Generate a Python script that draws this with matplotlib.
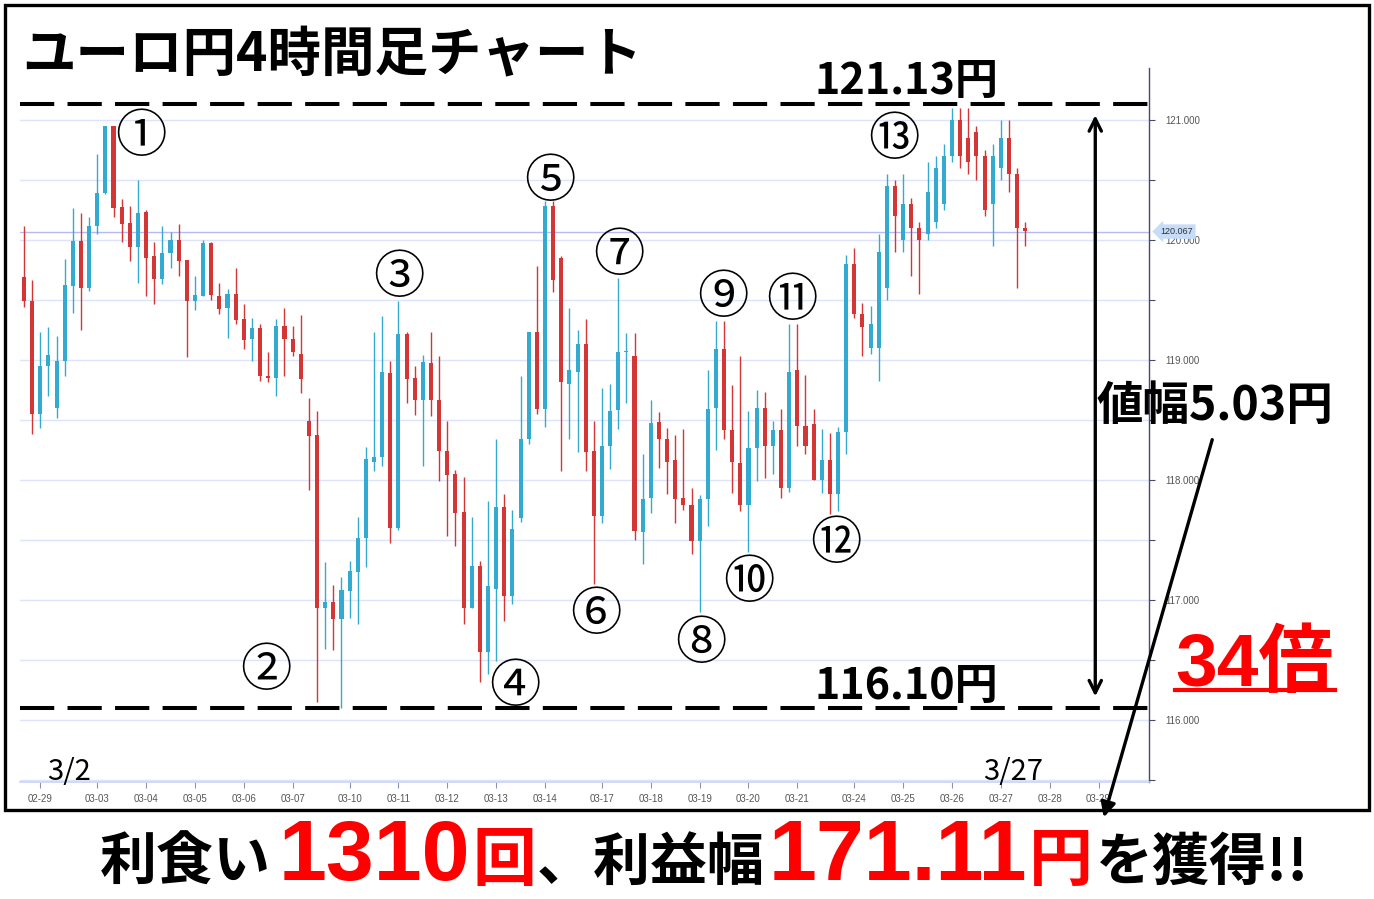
import matplotlib
matplotlib.use("Agg")
import matplotlib.pyplot as plt
import matplotlib.transforms as mtransforms
from matplotlib.patches import Rectangle
import numpy as np

plt.rcParams['font.family'] = ['Noto Sans CJK JP', 'DejaVu Sans']

W, H = 1374, 899
BLUE = '#33abd1'
RED = '#d43535'

# 4h candles (EUR/JPY)
opens = [119.69, 119.49, 118.55, 118.95, 118.60, 118.99, 119.61, 119.99, 119.60, 120.11,
         120.39, 120.95, 120.27, 120.14, 119.94, 120.23, 119.86, 119.67, 119.89, 120.00,
         119.83, 119.49, 119.53, 119.97, 119.53, 119.43, 119.55, 119.34, 119.17, 119.26,
         118.86, 118.85, 119.28, 119.17, 119.05, 118.49, 118.37, 116.93, 116.98, 116.84,
         117.07, 117.23, 117.51, 118.15, 118.19, 118.89, 117.60, 119.21, 118.85, 118.66,
         118.97, 118.66, 118.24, 118.05, 117.73, 116.93, 117.28, 116.56, 117.09, 117.77,
         117.03, 117.68, 118.34, 119.23, 118.59, 120.28, 119.85, 118.80, 118.90, 119.13,
         118.24, 117.70, 118.28, 118.58, 119.06, 119.03, 117.56, 117.85, 118.48, 118.34,
         118.16, 117.85, 117.79, 117.49, 117.84, 118.60, 119.09, 118.41, 118.14, 117.79,
         118.26, 118.60, 118.28, 118.41, 117.93, 118.91, 118.45, 118.46, 118.00, 118.16,
         117.88, 118.40, 119.80, 119.38, 119.10, 119.10, 119.60, 120.45, 120.00, 120.30,
         120.10, 120.05, 120.15, 120.30, 120.70, 121.00, 120.85, 120.90, 120.70, 120.30,
         120.60, 120.85, 120.55, 120.10]
highs = [120.11, 119.66, 119.23, 119.27, 119.20, 119.84, 120.26, 120.22, 120.19, 120.71,
         120.95, 120.95, 120.34, 120.28, 120.50, 120.25, 119.98, 120.11, 120.06, 120.13,
         119.83, 119.70, 120.00, 119.98, 119.64, 119.59, 119.76, 119.46, 119.35, 119.30,
         119.06, 119.34, 119.43, 119.28, 119.37, 118.68, 118.57, 117.31, 117.12, 117.19,
         117.32, 117.69, 118.27, 119.23, 119.36, 118.99, 119.49, 119.23, 118.95, 119.04,
         119.23, 119.03, 118.49, 118.08, 118.02, 117.69, 117.32, 117.82, 118.34, 117.88,
         117.75, 118.86, 119.23, 119.78, 120.32, 120.32, 119.86, 119.43, 119.25, 119.34,
         118.49, 118.76, 118.80, 119.68, 119.22, 119.22, 118.21, 118.66, 118.56, 118.43,
         118.37, 118.42, 117.93, 117.87, 118.91, 119.32, 119.32, 118.79, 119.03, 118.57,
         118.75, 118.73, 118.49, 118.59, 119.30, 119.30, 118.87, 118.59, 118.42, 118.39,
         118.44, 119.87, 119.93, 119.47, 119.45, 120.05, 120.55, 120.50, 120.55, 120.35,
         120.15, 120.65, 120.70, 120.80, 121.10, 121.10, 121.10, 120.95, 120.75, 120.80,
         121.00, 121.00, 120.60, 120.15]
lows = [119.44, 118.38, 118.43, 118.70, 118.51, 118.86, 119.39, 119.25, 119.57, 120.05,
        120.38, 120.19, 119.98, 119.82, 119.64, 119.53, 119.46, 119.63, 119.76, 119.70,
        119.02, 119.41, 119.53, 119.50, 119.38, 119.18, 119.30, 119.09, 118.99, 118.82,
        118.81, 118.70, 118.86, 119.03, 118.72, 117.91, 116.15, 116.59, 116.58, 116.10,
        116.85, 116.80, 117.27, 118.07, 118.11, 117.47, 117.58, 118.64, 118.54, 118.11,
        118.53, 117.99, 117.53, 117.45, 116.80, 116.93, 116.31, 116.38, 116.49, 116.82,
        116.96, 117.65, 118.30, 118.55, 118.44, 119.56, 118.07, 118.34, 118.23, 118.07,
        117.13, 117.64, 118.09, 118.42, 118.64, 117.50, 117.30, 117.72, 118.10, 117.88,
        117.64, 117.75, 117.38, 116.90, 117.61, 118.25, 118.34, 117.89, 117.74, 117.40,
        117.99, 118.01, 118.05, 117.85, 117.90, 118.28, 118.21, 118.00, 117.89, 117.71,
        117.74, 118.21, 119.35, 119.03, 119.05, 118.82, 119.50, 119.90, 119.90, 119.70,
        119.55, 120.00, 120.10, 120.25, 120.65, 120.60, 120.55, 120.50, 120.20, 119.95,
        120.50, 120.40, 119.60, 119.95]
closes = [119.49, 118.55, 118.95, 119.04, 118.99, 119.62, 119.99, 119.60, 120.11, 120.39,
          120.95, 120.26, 120.13, 119.94, 120.22, 119.85, 119.67, 119.89, 120.00, 119.82,
          119.49, 119.54, 119.97, 119.54, 119.42, 119.55, 119.33, 119.16, 119.26, 118.86,
          118.85, 119.28, 119.17, 119.06, 118.84, 118.36, 116.93, 116.98, 116.84, 117.08,
          117.24, 117.51, 118.17, 118.19, 118.90, 117.60, 119.21, 118.84, 118.66, 118.98,
          118.66, 118.24, 118.04, 117.72, 116.93, 117.28, 116.56, 117.11, 117.77, 117.03,
          117.59, 118.34, 119.23, 118.59, 120.28, 119.66, 118.81, 118.91, 119.13, 118.23,
          117.70, 118.28, 118.57, 119.06, 119.07, 117.57, 117.84, 118.47, 118.34, 118.15,
          117.84, 117.79, 117.49, 117.84, 118.59, 119.09, 118.41, 118.15, 117.79, 118.26,
          118.60, 118.28, 118.41, 117.93, 118.90, 118.45, 118.28, 118.00, 118.16, 117.88,
          118.40, 119.80, 119.38, 119.27, 119.30, 119.90, 120.45, 120.20, 120.30, 120.10,
          120.00, 120.40, 120.60, 120.70, 121.00, 120.70, 120.65, 120.70, 120.25, 120.70,
          120.85, 120.55, 120.10, 120.07]

day_pos = [2, 9, 15, 21, 27, 33, 40, 46, 52, 58, 64, 71, 77, 83, 89, 95, 102, 108, 114, 120, 126, 132]
day_labels = ['02-29', '03-03', '03-04', '03-05', '03-06', '03-07', '03-10', '03-11', '03-12',
              '03-13', '03-14', '03-17', '03-18', '03-19', '03-20', '03-21', '03-24', '03-25',
              '03-26', '03-27', '03-28', '03-29']

hi_level = 121.13
lo_level = 116.10
last_price = 120.067

# swing labels: (label, candle position, price)
swing_labels = ['①', '②', '③', '④', '⑤', '⑥', '⑦', '⑧', '⑨', '⑩', '⑪', '⑫', '⑬']
swing_x = [14.4, 29.7, 46.1, 60.3, 64.6, 70.3, 73.1, 83.2, 85.9, 89.0, 94.3, 99.75, 106.9]
swing_y = [120.85, 116.40, 119.68, 116.27, 120.48, 116.87, 119.86, 116.63, 119.51, 117.14, 119.49, 117.46, 120.83]


def fx(x):
    return x / W


def fy(y):
    return 1 - y / H


fig = plt.figure(figsize=(W / 100, H / 100), dpi=100)
ax = fig.add_axes([fx(20), fy(782), fx(1149) - fx(20), fy(68) - fy(782)])

o = np.array(opens)
c = np.array(closes)
xs = np.arange(len(o))
cols = np.where(c >= o, BLUE, RED)
ax.vlines(xs, lows, highs, colors=cols, lw=1.0, zorder=3)
body = np.maximum(np.abs(c - o), 0.015)
ax.bar(xs, body, bottom=np.minimum(o, c), width=0.5, color=cols, zorder=3)

ax.set_xlim(-0.49, 138.2)
ax.set_ylim(115.48, 121.43)

yt = np.arange(115.5, 121.01, 0.5)
ax.set_yticks(yt)
ax.set_yticklabels(['%.3f' % v if v % 1 == 0 and v > 115.9 else '' for v in yt])
ax.yaxis.tick_right()
ax.grid(axis='y', color='#dde3fb', lw=1.0, zorder=0)
ax.set_xticks(day_pos)
ax.set_xticklabels(day_labels)
ax.tick_params(axis='y', length=4, width=0.8, color='#444c66', labelsize=7, labelcolor='#555555', pad=8)
ax.tick_params(axis='x', length=4, width=0.8, color='#8a93b0', labelsize=7, labelcolor='#555555', pad=5)
for lab in ax.get_xticklabels() + ax.get_yticklabels():
    lab.set_family(['Liberation Sans', 'DejaVu Sans'])
for s in ['top', 'left']:
    ax.spines[s].set_visible(False)
ax.spines['right'].set_color('#444c66')
ax.spines['right'].set_linewidth(1.0)
ax.spines['bottom'].set_color('#c9d3f5')
ax.spines['bottom'].set_linewidth(1.2)

# last price line and tag
ax.axhline(last_price, color='#b4baf3', lw=1.0, zorder=2)
tr = mtransforms.blended_transform_factory(ax.transAxes, ax.transData)
ax.text(1.01, last_price, '%.3f' % last_price, transform=tr, ha='left', va='center',
        fontsize=6.5, color='#333333', family=['Liberation Sans', 'DejaVu Sans'], zorder=6,
        bbox=dict(boxstyle='larrow,pad=0.3', fc='#c6ddf9', ec='none'), clip_on=False)

# high / low levels
for lv in (hi_level, lo_level):
    ax.axhline(lv, color='black', lw=2.9, dashes=(8.5, 3.3), zorder=5)

# range arrow
ax.annotate('', xy=(131.6, lo_level + 0.07), xytext=(131.6, hi_level - 0.07),
            arrowprops=dict(arrowstyle='<->', lw=2.4, color='black', mutation_scale=22), zorder=6)

for lab, sx, sy in zip(swing_labels, swing_x, swing_y):
    ax.text(sx, sy, lab, ha='center', va='center', fontsize=37, color='black', zorder=7)

# frame
fig.add_artist(Rectangle((fx(5), fy(810)), fx(1369) - fx(5), fy(5) - fy(810),
                         transform=fig.transFigure, fill=False, lw=2.4, ec='black'))

fig.text(fx(22), fy(71), 'ユーロ円4時間足チャート', fontsize=38.5, weight='bold', va='baseline')
fig.text(fx(815), fy(94), '%.2f円' % hi_level, fontsize=31, weight='bold', va='baseline')
fig.text(fx(815), fy(699), '%.2f円' % lo_level, fontsize=31, weight='bold', va='baseline')
fig.text(fx(1097), fy(420), '値幅%.2f円' % (hi_level - lo_level), fontsize=33.5, weight='bold', va='baseline')
fig.text(fx(47), fy(780), '3/2', fontsize=21, va='baseline')
fig.text(fx(983), fy(780), '3/27', fontsize=21, va='baseline')

fig.text(fx(1175), fy(686), '34倍', fontsize=54, weight='bold', color='#ff0000', va='baseline',
         family=['Liberation Sans', 'Noto Sans CJK JP'])
fig.add_artist(plt.Line2D([fx(1175), fx(1335)], [fy(690), fy(690)], transform=fig.transFigure,
                          color='#ff0000', lw=3))

fig.add_artist(matplotlib.patches.FancyArrowPatch((fx(1213), fy(437)), (fx(1103), fy(820)),
                                                  transform=fig.transFigure, arrowstyle='-|>',
                                                  mutation_scale=22, lw=2.4, color='black'))

# bottom message
pieces = [('利食い', 'black', 41, 'bold', ['Noto Sans CJK JP']),
          ('1310', '#ff0000', 62, 'bold', ['Liberation Sans']),
          ('回', '#ff0000', 46, 'bold', ['Noto Sans CJK JP']),
          ('、利益幅', 'black', 41, 'bold', ['Noto Sans CJK JP']),
          ('171.11', '#ff0000', 62, 'bold', ['Liberation Sans']),
          ('円', '#ff0000', 46, 'bold', ['Noto Sans CJK JP']),
          ('を獲得!!', 'black', 41, 'bold', ['Noto Sans CJK JP', 'DejaVu Sans'])]
gaps = [8, 2, 0, 4, 2, 3, 0]
renderer = fig.canvas.get_renderer()
xp = 100
for (s, col, size, wt, fam), g in zip(pieces, gaps):
    t = fig.text(fx(xp), fy(880), s, color=col, fontsize=size, weight=wt, family=fam, va='baseline')
    xp += t.get_window_extent(renderer).width + g

fig.savefig('out.png', dpi=100)
